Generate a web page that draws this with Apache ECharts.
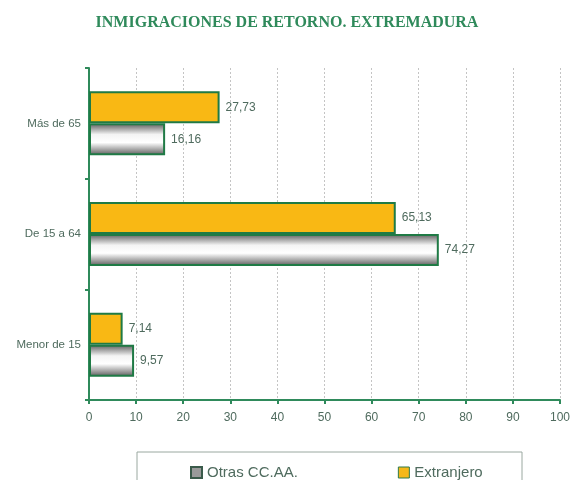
<!DOCTYPE html>
<html>
<head>
<meta charset="utf-8">
<script src="https://cdn.jsdelivr.net/npm/echarts@6/dist/echarts.min.js"></script>
<style>
  html, body { margin: 0; padding: 0; background: #fff; }
  #chart { width: 574px; height: 480px; }
</style>
</head>
<body>
<div id="chart"></div>
<script>
// datos
var categorias = ['Menor de 15', 'De 15 a 64', 'Más de 65']
var otrasCCAA = [9.57, 74.27, 16.16]
var extranjero = [7.14, 65.13, 27.73]
var ticksX = [0, 10, 20, 30, 40, 50, 60, 70, 80, 90, 100]

var verde = '#2f8a5b'
var texto = '#4f6b5e'

function coma(p) {
    return p.value.toFixed(2).replace('.', ',')
}

var etiqueta = {
    show: true,
    position: 'right',
    distance: 6,
    formatter: coma,
    fontFamily: 'Liberation Sans',
    fontSize: 12,
    color: texto
}

var chart = echarts.init(document.getElementById('chart'))

var option = {
    backgroundColor: '#fff',
    animation: false,
    title: {
        text: 'INMIGRACIONES DE RETORNO. EXTREMADURA',
        left: 'center',
        top: 10,
        textStyle: {
            fontFamily: 'Liberation Serif',
            fontWeight: 'bold',
            fontSize: 16,
            color: verde
        }
    },
    legend: {
        left: 185,
        top: 460,
        icon: 'rect',
        itemWidth: 11,
        itemHeight: 11,
        itemGap: 100,
        textStyle: { fontFamily: 'Liberation Sans', fontSize: 15, color: texto },
        data: [
            { name: 'Otras CC.AA.', itemStyle: { color: '#9a9a9a', borderColor: '#3a5a4a', borderWidth: 2 } },
            { name: 'Extranjero', itemStyle: { color: '#f5b819', borderColor: '#2f7a4a', borderWidth: 1 } }
        ]
    },
    graphic: [{
        type: 'polyline',
        shape: { points: [[137, 480], [137, 452], [522, 452], [522, 480]] },
        style: { stroke: '#9aa8a0', lineWidth: 1, fill: null },
        z: 0
    }],
    grid: { left: 89, right: 14, top: 68, bottom: 80 },
    xAxis: {
        type: 'value',
        min: ticksX[0],
        max: ticksX[ticksX.length - 1],
        interval: 10,
        axisLine: { show: true, lineStyle: { color: verde, width: 2 } },
        axisTick: { show: true, length: 4, lineStyle: { color: verde, width: 2 } },
        axisLabel: { fontFamily: 'Liberation Sans', fontSize: 12, color: texto, margin: 12 },
        splitLine: { show: true, lineStyle: { color: '#c4c4c4', type: [2, 2], width: 1 } }
    },
    yAxis: {
        type: 'category',
        data: categorias,
        axisLine: { show: true, lineStyle: { color: verde, width: 2 } },
        axisTick: { show: true, length: 4, lineStyle: { color: verde, width: 2 } },
        axisLabel: { fontFamily: 'Liberation Sans', fontSize: 11.5, color: texto, margin: 8 },
        splitLine: { show: false }
    },
    // en barras horizontales la primera serie queda arriba
    series: [
        {
            name: 'Extranjero',
            type: 'bar',
            data: extranjero,
            barWidth: 32,
            barGap: '0%',
            itemStyle: {
                color: '#f9b814',
                borderColor: '#1f7a45',
                borderWidth: 2
            },
            label: etiqueta
        },
        {
            name: 'Otras CC.AA.',
            type: 'bar',
            data: otrasCCAA,
            barWidth: 32,
            barGap: '0%',
            itemStyle: {
                color: new echarts.graphic.LinearGradient(0, 0, 0, 1, [
                    { offset: 0, color: '#5a5a5a' },
                    { offset: 0.35, color: '#f4f4f4' },
                    { offset: 0.6, color: '#ffffff' },
                    { offset: 1, color: '#5a5a5a' }
                ]),
                borderColor: '#1f7a45',
                borderWidth: 2
            },
            label: etiqueta
        }
    ]
}

chart.setOption(option)
</script>
</body>
</html>
